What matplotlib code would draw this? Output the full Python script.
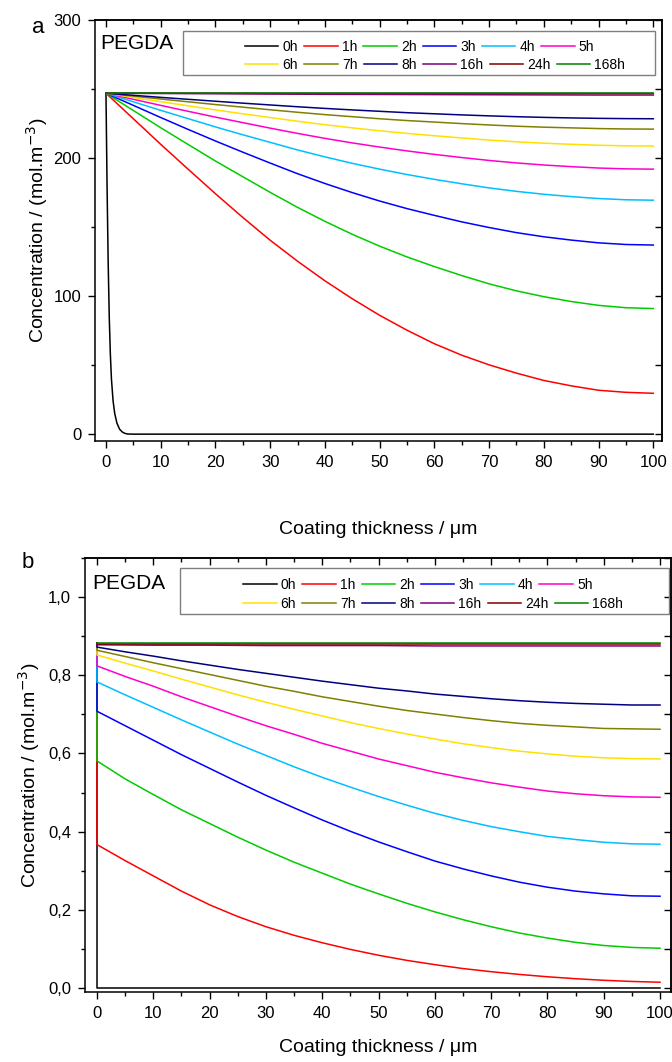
import matplotlib.pyplot as plt
from matplotlib.patches import Rectangle
from matplotlib.ticker import MultipleLocator, FuncFormatter

plt.rcParams['font.family'] = ['Liberation Sans', 'DejaVu Sans']

times = ["0h", "1h", "2h", "3h", "4h", "5h", "6h", "7h", "8h", "16h", "24h", "168h"]
colors = ["#000000", "#FF0000", "#00CC00", "#0000FF", "#00BFFF", "#FF00CC",
          "#FFE000", "#808000", "#000080", "#800080", "#800000", "#008000"]

# depth into the coating (um)
depth = [0, 5, 10, 15, 20, 25, 30, 35, 40, 45, 50, 55, 60, 65, 70, 75, 80, 85, 90, 95, 100]
depth10 = [0, 10, 20, 30, 40, 50, 60, 70, 80, 90, 100]

# (a) PEGDA concentration profiles, mol/m3
depth_a_0h = [0, 0.2, 0.4, 0.6, 0.8, 1.0, 1.3, 1.6, 2.0, 2.5, 3.0, 3.5, 4.0, 5.0, 100]
a_0h = [247, 180, 125, 85, 58, 40, 24, 15, 8, 3.5, 1.5, 0.5, 0.1, 0, 0]
a_1h = [247, 228.5, 210.0, 192.0, 174.2, 157.0, 140.5, 125.3, 111.1, 98.1, 86.1,
        75.3, 65.5, 57.2, 50.2, 44.2, 38.9, 35.0, 31.8, 30.3, 29.6]
a_2h = [247, 234.5, 222.0, 209.9, 197.9, 186.5, 175.2, 164.3, 154.2, 144.8, 136.2,
        128.4, 121.4, 114.9, 108.9, 103.8, 99.6, 96.1, 93.3, 91.6, 91.0]
a_3h = [247, 238.2, 229.4, 220.8, 212.4, 204.3, 196.4, 188.7, 181.6, 175.0, 168.9,
        163.4, 158.5, 153.8, 149.7, 146.0, 143.0, 140.6, 138.6, 137.4, 137.0]
a_4h = [247, 240.8, 234.6, 228.6, 222.6, 216.9, 211.4, 205.9, 200.9, 196.2, 192.0,
        188.1, 184.6, 181.4, 178.4, 175.9, 173.8, 172.1, 170.7, 169.8, 169.5]
a_5h = [247, 242.6, 238.2, 233.9, 229.7, 225.7, 221.7, 217.9, 214.3, 211.0, 208.0,
        205.2, 202.7, 200.4, 198.3, 196.5, 195.0, 193.8, 192.8, 192.2, 192.0]
a_6h = [247, 243.9, 240.9, 237.9, 234.9, 232.1, 229.4, 226.7, 224.2, 221.9, 219.8,
        217.9, 216.2, 214.6, 213.1, 211.8, 210.8, 210.0, 209.3, 208.9, 208.7]
a_7h = [247, 244.9, 242.8, 240.8, 238.8, 236.9, 235.0, 233.2, 231.5, 230.0, 228.5,
        227.2, 226.1, 225.0, 224.0, 223.1, 222.4, 221.9, 221.4, 221.1, 221.0]
a_8h = [247, 245.5, 244.0, 242.6, 241.2, 239.8, 238.5, 237.2, 236.0, 234.9, 233.9,
        232.9, 232.1, 231.3, 230.6, 230.0, 229.5, 229.1, 228.8, 228.6, 228.5]
a_16h = [247, 246.8, 246.6, 246.4, 246.2, 246.1, 246.0, 245.9, 245.8, 245.7, 245.7]
a_24h = [247, 247.0, 247.0, 246.9, 246.9, 246.9, 246.9, 246.9, 246.8, 246.8, 246.8]
a_168h = [247, 247, 247, 247, 247, 247, 247, 247, 247, 247, 247]

# (b) profiles; the surface value sits at x = 0 ahead of the first interior value
depth_b_0h = [0, 0, 100]
b_0h = [0.882, 0, 0]
b_1h = [0.882, 0.367, 0.326, 0.287, 0.248, 0.213, 0.183, 0.157, 0.135, 0.116, 0.099, 0.084,
        0.071, 0.060, 0.050, 0.042, 0.035, 0.029, 0.024, 0.020, 0.017, 0.015]
b_2h = [0.882, 0.581, 0.535, 0.495, 0.456, 0.421, 0.386, 0.353, 0.322, 0.294, 0.266, 0.241,
        0.217, 0.195, 0.175, 0.157, 0.141, 0.128, 0.117, 0.109, 0.104, 0.102]
b_3h = [0.882, 0.708, 0.671, 0.634, 0.597, 0.562, 0.527, 0.493, 0.461, 0.430, 0.401, 0.374,
        0.349, 0.325, 0.305, 0.287, 0.271, 0.258, 0.248, 0.241, 0.236, 0.235]
b_4h = [0.882, 0.783, 0.750, 0.718, 0.686, 0.655, 0.624, 0.595, 0.566, 0.539, 0.514, 0.490,
        0.468, 0.447, 0.429, 0.413, 0.400, 0.388, 0.380, 0.373, 0.369, 0.368]
b_5h = [0.882, 0.824, 0.797, 0.772, 0.745, 0.720, 0.695, 0.671, 0.649, 0.626, 0.606, 0.586,
        0.569, 0.552, 0.538, 0.525, 0.514, 0.504, 0.497, 0.492, 0.489, 0.488]
b_6h = [0.882, 0.852, 0.831, 0.811, 0.790, 0.770, 0.750, 0.731, 0.713, 0.696, 0.679, 0.664,
        0.650, 0.637, 0.625, 0.615, 0.606, 0.599, 0.593, 0.589, 0.587, 0.586]
b_7h = [0.882, 0.864, 0.848, 0.832, 0.817, 0.802, 0.787, 0.772, 0.759, 0.745, 0.733, 0.721,
        0.710, 0.701, 0.692, 0.684, 0.677, 0.672, 0.668, 0.664, 0.663, 0.662]
b_8h = [0.882, 0.872, 0.860, 0.849, 0.837, 0.826, 0.815, 0.805, 0.795, 0.785, 0.776, 0.767,
        0.760, 0.752, 0.746, 0.740, 0.735, 0.731, 0.728, 0.726, 0.724, 0.724]
b_16h = [0.882, 0.878, 0.877, 0.877, 0.876, 0.876, 0.876, 0.875, 0.875, 0.875, 0.875, 0.875]
b_24h = [0.882, 0.881, 0.881, 0.881, 0.881, 0.881, 0.881, 0.881, 0.881, 0.881, 0.881, 0.881]
b_168h = [0.882, 0.882, 0.882, 0.882, 0.882, 0.882, 0.882, 0.882, 0.882, 0.882, 0.882, 0.882]

depth_b = [0] + depth
depth_b10 = [0] + depth10

profiles_a = ([(depth_a_0h, a_0h)]
              + [(depth, c) for c in [a_1h, a_2h, a_3h, a_4h, a_5h, a_6h, a_7h, a_8h]]
              + [(depth10, c) for c in [a_16h, a_24h, a_168h]])
profiles_b = ([(depth_b_0h, b_0h)]
              + [(depth_b, c) for c in [b_1h, b_2h, b_3h, b_4h, b_5h, b_6h, b_7h, b_8h]]
              + [(depth_b10, c) for c in [b_16h, b_24h, b_168h]])

fig = plt.figure(figsize=(6.72, 10.62), dpi=100)
ax_a = fig.add_axes([0.1414, 0.5847, 0.8438, 0.3964])
ax_b = fig.add_axes([0.1265, 0.0659, 0.8720, 0.4087])


def style_axes(ax):
    for s in ax.spines.values():
        s.set_linewidth(1.1)
    ax.xaxis.set_major_locator(MultipleLocator(10))
    ax.xaxis.set_minor_locator(MultipleLocator(5))
    ax.tick_params(which='both', direction='out', width=1.0, labelsize=12, pad=5)
    ax.tick_params(which='major', length=5)
    ax.tick_params(which='minor', length=3)
    # inward ticks on the top and right edges
    top = ax.secondary_xaxis('top')
    top.xaxis.set_major_locator(MultipleLocator(10))
    top.xaxis.set_minor_locator(MultipleLocator(5))
    top.tick_params(which='both', direction='in', labeltop=False, width=1.0)
    top.tick_params(which='major', length=5)
    top.tick_params(which='minor', length=3)
    right = ax.secondary_yaxis('right')
    right.yaxis.set_major_locator(ax.yaxis.get_major_locator())
    right.yaxis.set_minor_locator(ax.yaxis.get_minor_locator())
    right.tick_params(which='both', direction='in', labelright=False, width=1.0)
    right.tick_params(which='major', length=5)
    right.tick_params(which='minor', length=5)
    for sec in (top, right):
        for s in sec.spines.values():
            s.set_linewidth(1.1)


def add_legend(ax, lines, x, y1, y2, box):
    opts = dict(ncol=6, loc='center left', frameon=False, fontsize=10,
                handlelength=2.4, handletextpad=0.3, columnspacing=0.45,
                borderpad=0, borderaxespad=0)
    leg1 = ax.legend(lines[:6], times[:6], bbox_to_anchor=(x, y1), **opts)
    ax.add_artist(leg1)
    ax.legend(lines[6:], times[6:], bbox_to_anchor=(x, y2), **opts)
    ax.add_patch(Rectangle((box[0], box[1]), box[2] - box[0], box[3] - box[1],
                           transform=ax.transAxes, fill=False,
                           edgecolor='#7f7f7f', lw=1.0, clip_on=False))


# panel a
lines_a = []
for (x, c), col, t in zip(profiles_a, colors, times):
    ln, = ax_a.plot(x, c, color=col, lw=1.1, label=t)
    lines_a.append(ln)
ax_a.set_xlim(-2.0, 101.6)
ax_a.set_ylim(-5, 300)
ax_a.yaxis.set_major_locator(MultipleLocator(100))
ax_a.yaxis.set_minor_locator(MultipleLocator(50))
style_axes(ax_a)
ax_a.set_xlabel("Coating thickness / \u03bcm", fontsize=14)
ax_a.set_ylabel("Concentration / (mol.m$^{-3}$)", fontsize=14)
ax_a.xaxis.set_label_coords(0.5, -0.19)
ax_a.yaxis.set_label_coords(-0.079, 0.5)
ax_a.text(0.009, 0.945, "PEGDA", transform=ax_a.transAxes, fontsize=15,
          va='center', ha='left')
add_legend(ax_a, lines_a, 0.2646, 0.936, 0.893, (0.155, 0.869, 0.988, 0.974))

# panel b
lines_b = []
for (x, c), col, t in zip(profiles_b, colors, times):
    ln, = ax_b.plot(x, c, color=col, lw=1.1, label=t)
    lines_b.append(ln)
ax_b.set_xlim(-2.13, 101.95)
ax_b.set_ylim(-0.01, 1.1)
ax_b.yaxis.set_major_locator(MultipleLocator(0.2))
ax_b.yaxis.set_minor_locator(MultipleLocator(0.1))
ax_b.yaxis.set_major_formatter(FuncFormatter(lambda v, p: f"{v:.1f}".replace('.', ',')))
style_axes(ax_b)
ax_b.set_xlabel("Coating thickness / \u03bcm", fontsize=14)
ax_b.set_ylabel("Concentration / (mol.m$^{-3}$)", fontsize=14)
ax_b.xaxis.set_label_coords(0.5, -0.108)
ax_b.yaxis.set_label_coords(-0.074, 0.5)
ax_b.text(0.012, 0.942, "PEGDA", transform=ax_b.transAxes, fontsize=15,
          va='center', ha='left')
add_legend(ax_b, lines_b, 0.270, 0.938, 0.894, (0.162, 0.871, 0.997, 0.977))

fig.text(32 / 672, 1 - 33 / 1062, "a", fontsize=16, va='baseline')
fig.text(22 / 672, 1 - 568 / 1062, "b", fontsize=16, va='baseline')

fig.savefig("out.png", dpi=100)
